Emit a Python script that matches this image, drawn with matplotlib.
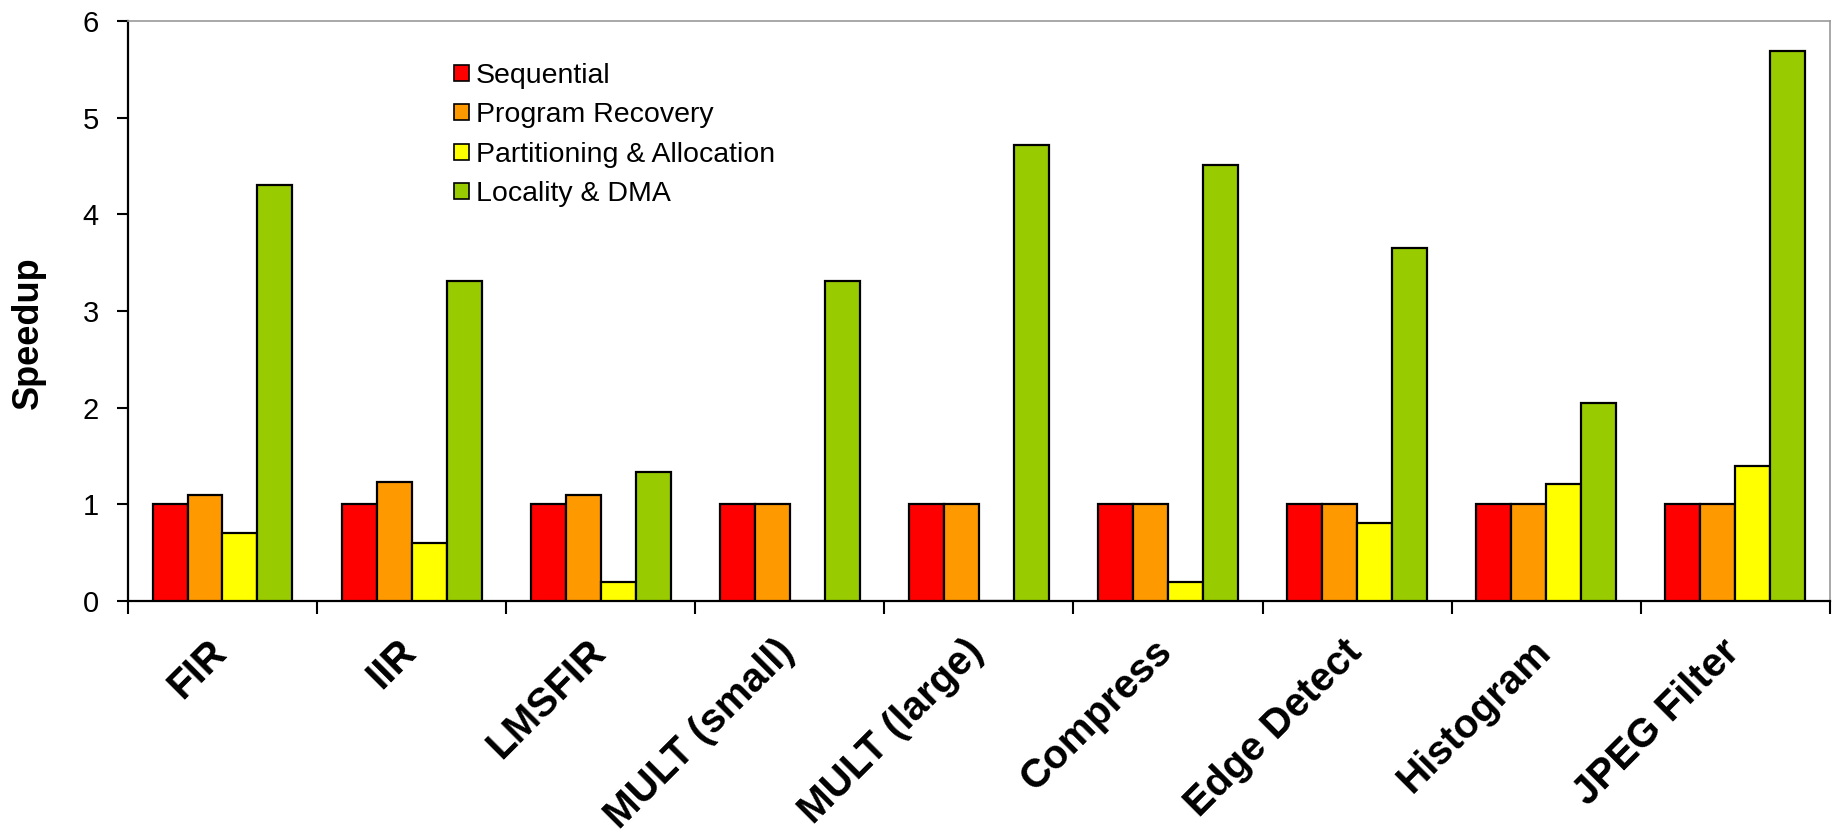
import numpy as np
import matplotlib.pyplot as plt
from matplotlib.transforms import ScaledTranslation

plt.rcParams['font.family'] = ['Liberation Sans', 'DejaVu Sans']

benchmarks = ["FIR", "IIR", "LMSFIR", "MULT (small)", "MULT (large)",
              "Compress", "Edge Detect", "Histogram", "JPEG Filter"]

sequential = [1.0, 1.0, 1.0, 1.0, 1.0, 1.0, 1.0, 1.0, 1.0]
program_recovery = [1.1, 1.23, 1.1, 1.0, 1.0, 1.0, 1.0, 1.0, 1.0]
partitioning = [0.7, 0.6, 0.2, 0.0, 0.0, 0.2, 0.81, 1.21, 1.4]
locality_dma = [4.3, 3.31, 1.33, 3.31, 4.72, 4.51, 3.65, 2.05, 5.69]

series = [
    ("Sequential", sequential, "#FF0000"),
    ("Program Recovery", program_recovery, "#FF9900"),
    ("Partitioning & Allocation", partitioning, "#FFFF00"),
    ("Locality & DMA", locality_dma, "#99CC00"),
]

fig = plt.figure(figsize=(18.33, 8.35), dpi=100)
ax = fig.add_axes([0.0698, 0.2802, 0.9285, 0.6947])

x = np.arange(len(benchmarks))
w = 0.185
for i, (name, vals, col) in enumerate(series):
    off = (i - 1.5) * w
    ax.bar(x + off, vals, w, color=col, edgecolor="black", linewidth=1.6,
           label=name, zorder=3)

ax.set_xlim(-0.5, len(benchmarks) - 0.5)
ax.set_ylim(0, 6)
ax.set_yticks(range(0, 7))
ax.tick_params(axis="y", labelsize=21, length=8, width=1.5, direction="out", pad=13)

# category boundaries get tick marks, centres get the labels
ax.set_xticks(np.arange(-0.5, len(benchmarks)), [])
ax.tick_params(axis="x", which="major", length=9, width=1.5, direction="out")
ax.set_xticks(x, benchmarks, minor=True)
ax.tick_params(axis="x", which="minor", length=0, pad=22.6)
shift = ScaledTranslation(-15 / 100, 0, fig.dpi_scale_trans)
for lab in ax.get_xticklabels(minor=True):
    lab.set_rotation(45)
    lab.set_ha("right")
    lab.set_va("top")
    lab.set_rotation_mode("anchor")
    lab.set_fontsize(29)
    lab.set_fontweight("bold")
    lab.set_transform(lab.get_transform() + shift)

ax.set_ylabel("Speedup", fontsize=26, fontweight="bold")
ax.yaxis.set_label_coords(-0.048, 0.462)

for side in ("left", "bottom"):
    ax.spines[side].set_linewidth(1.6)
    ax.spines[side].set_color("black")
for side in ("top", "right"):
    ax.spines[side].set_linewidth(1.2)
    ax.spines[side].set_color("#999999")

leg = ax.legend(loc="upper left", bbox_to_anchor=(0.183, 0.952), frameon=False,
                fontsize=20.5, handlelength=0.53, handleheight=0.47,
                handletextpad=0.25, labelspacing=0.47, borderpad=0)
for h in leg.legend_handles:
    h.set_linewidth(1.2)

fig.savefig("out.png", dpi=100)
